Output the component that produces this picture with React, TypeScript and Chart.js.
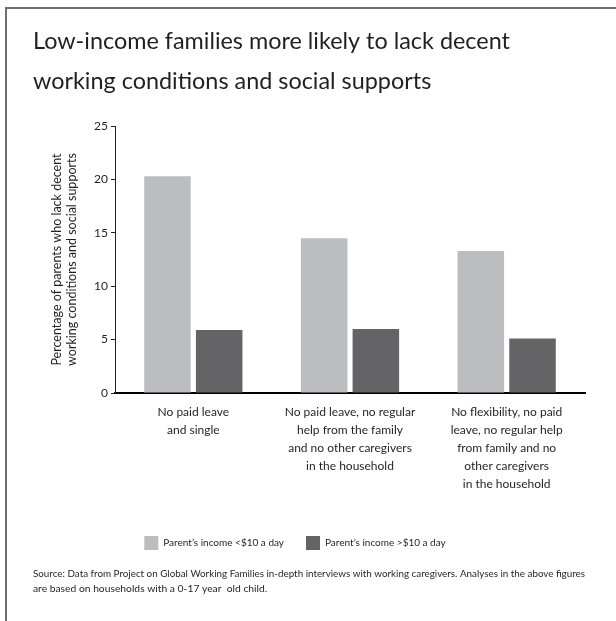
import React, { useEffect, useRef } from "react";
import { Chart, registerables } from "chart.js";

Chart.register(...registerables);

const titleLines = [
  "Low-income families more likely to lack decent",
  "working conditions and social supports",
];
const categories = [
  ["No paid leave", "and single"],
  ["No paid leave, no regular", "help from the family", "and no other caregivers", "in the household"],
  ["No flexibility, no paid", "leave, no regular help", "from family and no", "other caregivers", "in the household"],
];
const seriesNames = ["Parent\u2019s income <$10 a day", "Parent\u2019s income >$10 a day"];
const lowIncome = [20.3, 14.5, 13.3];
const highIncome = [5.9, 6.0, 5.1];
const yAxisTitle = ["Percentage of parents who lack decent", "working conditions and social supports"];
const sourceLines = [
  "Source: Data from Project on Global Working Families in-depth interviews with working caregivers. Analyses in the above figures",
  "are based on households with a 0-17 year  old child.",
];

const FONT = "Lato, 'Open Sans', sans-serif";
const TEXT = "#231f20";

const legendShift = {
  id: "legendShift",
  afterLayout(chart: any) {
    if (chart.legend) {
      chart.legend.left -= 14;
      chart.legend.right -= 14;
    }
  },
};

export default function App() {
  const ref = useRef<HTMLCanvasElement | null>(null);
  useEffect(() => {
    if (!ref.current) return;
    const chart = new Chart(ref.current, {
      type: "bar",
      data: {
        labels: categories,
        datasets: [
          { label: seriesNames[0], data: lowIncome, backgroundColor: "#bcbdc0", categoryPercentage: 0.66, barPercentage: 0.9 },
          { label: seriesNames[1], data: highIncome, backgroundColor: "#646466", categoryPercentage: 0.66, barPercentage: 0.9 },
        ],
      },
      plugins: [legendShift],
      options: {
        animation: false,
        responsive: false,
        maintainAspectRatio: false,
        layout: { padding: { left: 33, right: 31, top: 0, bottom: 24.5 } },
        plugins: {
          tooltip: { enabled: false },
          title: {
            display: true,
            text: titleLines,
            align: "start",
            color: TEXT,
            font: { family: FONT, size: 23.4, weight: "normal", lineHeight: 40 / 23.4 },
            padding: { top: 21, bottom: 25 },
          },
          legend: {
            display: true,
            position: "bottom",
            labels: {
              boxWidth: 14,
              boxHeight: 14,
              padding: 22,
              color: TEXT,
              font: { family: FONT, size: 10 },
            },
          },
          subtitle: {
            display: true,
            position: "bottom",
            align: "start",
            text: sourceLines,
            color: TEXT,
            font: { family: FONT, size: 10.3, lineHeight: 15 / 10.3 },
            padding: { top: 6.5, bottom: 0 },
          },
        },
        scales: {
          x: {
            grid: { display: false, drawTicks: false },
            border: { display: true, color: "#000000", width: 2 },
            ticks: {
              color: TEXT,
              padding: 10,
              maxRotation: 0,
              autoSkip: false,
              font: { family: FONT, size: 12, lineHeight: 1.5 },
            },
            afterFit: (s: any) => {
              s.height = 121;
            },
          },
          y: {
            min: 0,
            max: 25,
            ticks: {
              stepSize: 5,
              color: TEXT,
              padding: 3,
              font: { family: FONT, size: 12 },
            },
            grid: { display: true, drawOnChartArea: false, drawTicks: true, tickLength: 4, color: "#231f20" },
            border: { display: true, color: "#231f20", width: 1 },
            title: {
              display: true,
              text: yAxisTitle,
              color: TEXT,
              font: { family: FONT, size: 12.5, lineHeight: 15 / 12.5 },
              padding: { top: 16, bottom: 0 },
            },
            afterFit: (s: any) => {
              s.width = 82;
            },
          },
        },
      },
    });
    return () => chart.destroy();
  }, []);
  return (
    <div style={{ position: "fixed", left: 0, top: 0, width: 616, height: 621, background: "#fff" }}>
      <div
        style={{
          position: "absolute",
          left: 5,
          top: 7,
          width: 611,
          height: 614,
          borderTop: "2px solid #6d6e71",
          borderLeft: "2px solid #6d6e71",
          boxSizing: "border-box",
        }}
      />
      <canvas ref={ref} width={616} height={621} style={{ position: "absolute", left: 0, top: 0, width: 616, height: 621 }} />
    </div>
  );
}
